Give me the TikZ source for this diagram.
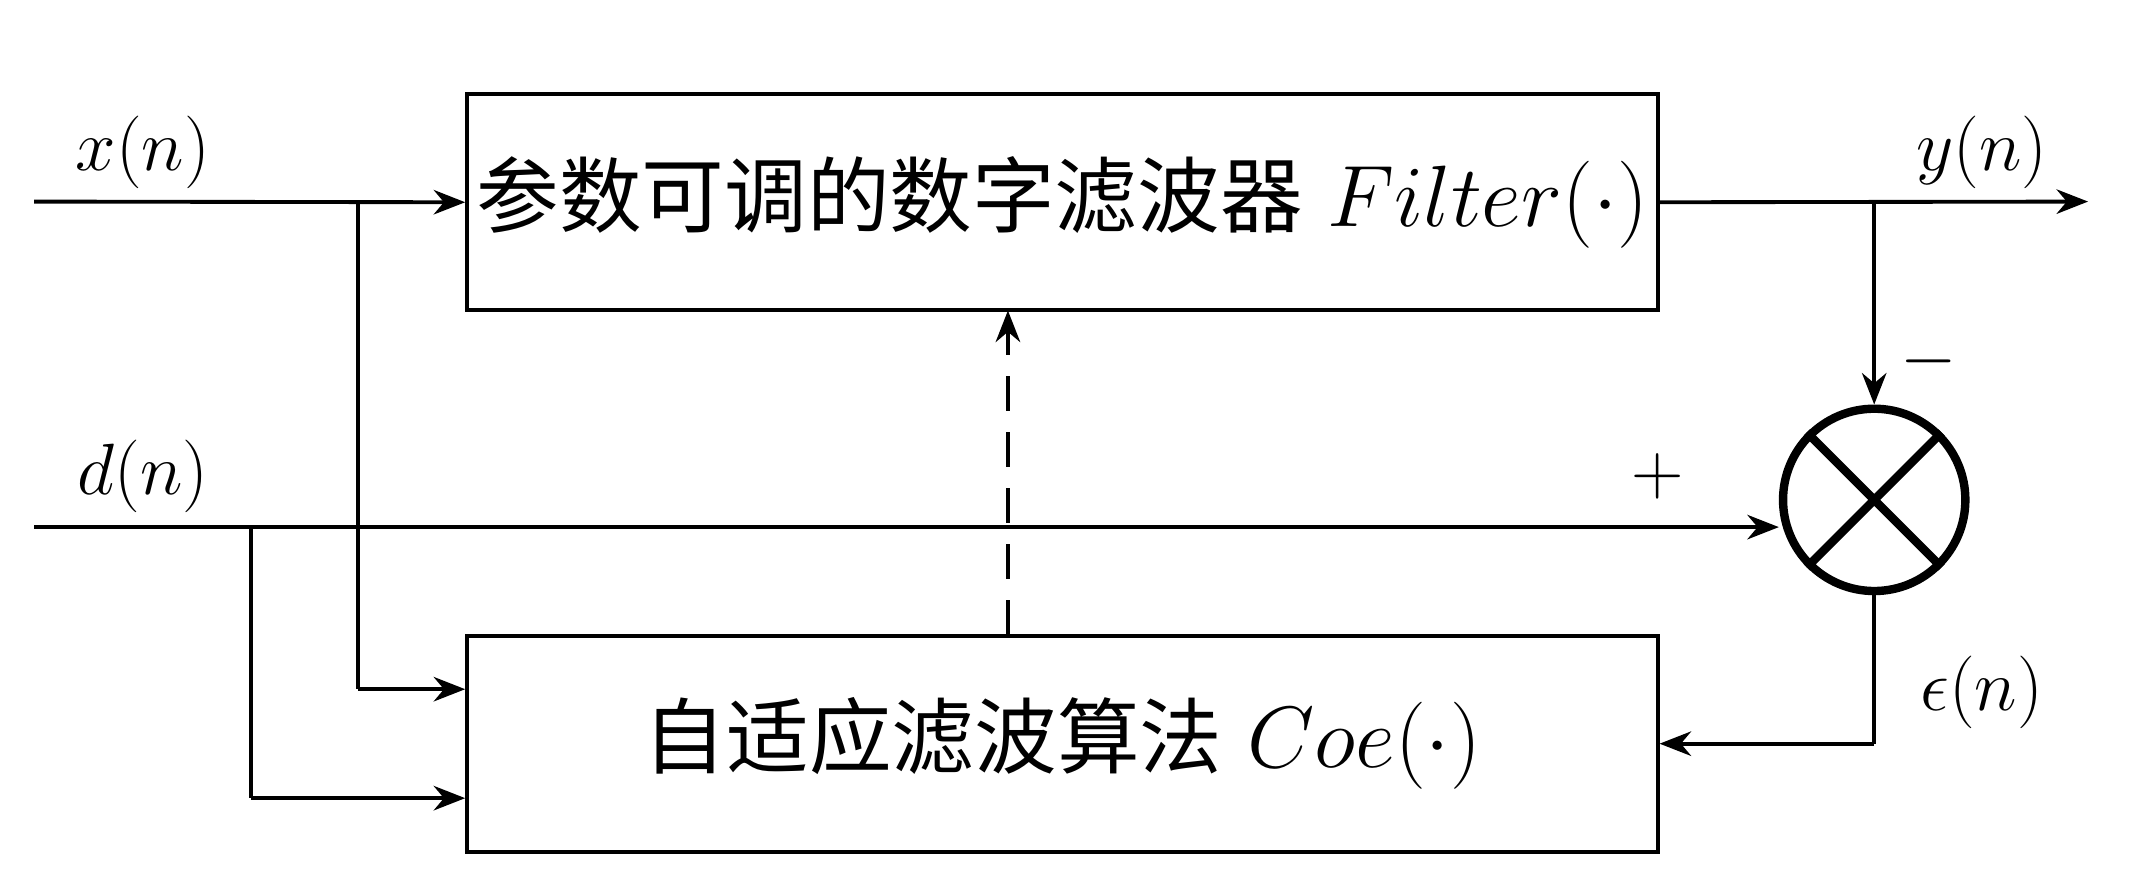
\documentclass[tikz,border=0pt]{standalone}
\usepackage{fontspec}
\newfontfamily\cjk{Noto Sans CJK SC}
\usetikzlibrary{arrows.meta,calc}
\tikzset{
  blockbox/.style={draw,line width=1.1pt,minimum width=11.95cm,minimum height=2.17cm,inner sep=0pt,font=\fontsize{23.6}{28}\selectfont},
  sumcirc/.style={draw,circle,line width=2.4pt,minimum size=1.83cm,inner sep=0pt},
  sig/.style={line width=1.1pt,-{Stealth[length=9pt,width=7pt]}},
  wire/.style={line width=1.1pt},
  lbl/.style={font=\fontsize{22}{26}\selectfont}
}
\begin{document}
\begin{tikzpicture}[x=0.01367cm,y=-0.01367cm]
\useasboundingbox (0,0) rectangle (1566,653);
\node[blockbox] (filt) at (780,148.5) {{\cjk 参数可调的数字滤波器} $Filter(\cdot)$};
\node[blockbox] (coe) at (780,546) {{\cjk 自适应滤波算法} $Coe(\cdot)$};
\node[sumcirc] (sum) at (1376,367) {};
\draw[line width=2.4pt] (sum.north west) -- (sum.south east) (sum.north east) -- (sum.south west);
\coordinate (xin) at (25,148);
\coordinate (din) at (25,387);
\coordinate (xb) at (263,148);
\coordinate (db) at (184,387);
\coordinate (yb) at (1376,148);
\coordinate (yout) at (1533,148);
\coordinate (eb) at (1376,546);
\draw[sig] (xin) -- (filt.west);
\draw[wire] (xb) -- (263,506);
\draw[sig] (263,506) -- (coe.west |- 0,506);
\draw[sig] (din) -- (sum.west |- din);
\draw[wire] (db) -- (184,586);
\draw[sig] (184,586) -- (coe.west |- 0,586);
\draw[sig] (filt.east) -- (yout);
\draw[sig] (yb) -- (sum.north);
\draw[wire] (sum.south) -- (eb);
\draw[sig] (eb) -- (coe.east |- eb);
\draw[sig,dash pattern=on 10pt off 6pt] (740,466) -- (740,228);
\node[lbl] (xl) at (105,112) {$x(n)$};
\node[lbl] (dl) at (105,350) {$d(n)$};
\node[lbl] (yl) at (1455,112) {$y(n)$};
\node[lbl] (el) at (1455,508) {$\epsilon(n)$};
\node[lbl] (mi) at (1416,265) {$-$};
\node[lbl] (pl) at (1217,350) {$+$};
\end{tikzpicture}
\end{document}
